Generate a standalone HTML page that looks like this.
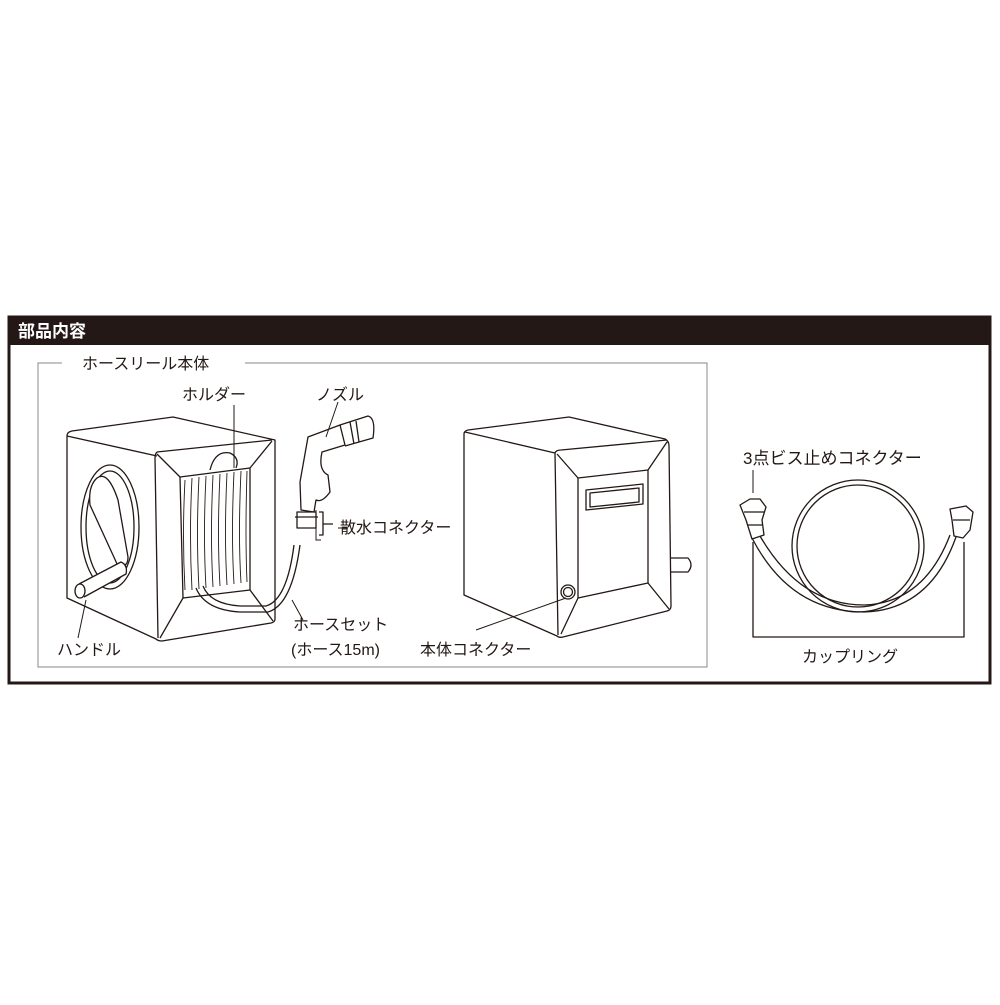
<!DOCTYPE html>
<html><head><meta charset="utf-8"><style>
body{margin:0;background:#fff;width:1000px;height:1000px;overflow:hidden}
svg text{font-family:"Liberation Sans","Noto Sans CJK JP",sans-serif;fill:#231815}
</style></head><body>
<svg width="1000" height="1000" viewBox="0 0 1000 1000" xmlns="http://www.w3.org/2000/svg">
<rect x="9" y="317" width="981" height="366" fill="none" stroke="#231815" stroke-width="3"/>
<rect x="8" y="316" width="983" height="29" fill="#231815"/>
<text x="18" y="337" font-size="17" font-weight="bold" style="fill:#fff">部品内容</text>
<path d="M62 363 H38 V667 H707 V363 H245" fill="none" stroke="#888" stroke-width="1"/>
<text x="82" y="369" font-size="16">ホースリール本体</text>

<g fill="none" stroke="#231815" stroke-width="1.3" stroke-linejoin="round">
<!-- left reel -->
<path d="M67 436 Q67 432 72 431 L173 417 L275 440 L275 619 Q275 622 271 623 L162 641 Q158 641 156 639 L67 598 Z"/>
<path d="M157 452 L272 440 M157 452 Q155 454 155 458 L158 638 M67 436 L157 456"/>
<path d="M180 477 L250 468 L250 590 L183 598 Z"/>
<path d="M157 454 L180 477 M272 441 L250 468 M273 621 L250 590 M160 638 L183 598"/>
<ellipse cx="110" cy="527" rx="29" ry="62"/>
<ellipse cx="110" cy="527" rx="24" ry="56"/>
<path d="M97 478 Q108 470 118 500 L128 557 Q128 568 118 566 L90 505 Q88 486 97 478 Z" fill="#fff"/>
<path d="M79 584 L121 562 Q128 565 126 574 L84 597" fill="#fff"/>
<ellipse cx="80" cy="591" rx="5" ry="7"/>
<path d="M210 470 Q215 450 230 453 Q240 458 236 468"/>
<g stroke-width="0.9">
<path d="M185 480 Q182 535 185 590 M192 478 Q189 535 192 590 M199 477 Q196 535 199 589 M206 476 Q203 535 206 588 M213 475 Q210 535 213 587 M220 474 Q217 535 220 586 M227 473 Q224 535 227 585 M234 472 Q231 535 234 584 M241 471 Q238 535 241 583 M247 471 Q245 535 247 582"/>
</g>
<path d="M196 588 Q205 610 240 612 L268 612 Q292 605 300 545 M203 586 Q210 604 240 606 L266 606 Q287 600 294 545"/>
<!-- nozzle -->
<path d="M308 437 L340 425 L345 445 L322 452 Q318 470 328 475 L330 492 Q322 503 316 500 L314 512 L301 510 L300 482 Z" fill="#fff"/>
<path d="M340 425 L368 416 Q376 418 373 438 L345 446"/>
<path d="M350 422 L354 444 M356 421 L359 442"/>
<path d="M297 512 L316 512 L316 528 L297 528 Z M295 517 H318"/>
<path d="M319 512 H323 V535 H319 M323 524 H333"/>
<!-- right box -->
<path d="M464 434 Q464 431 468 430 L569 417 L665 439 Q669 441 669 446 L671 606 Q671 610 667 611 L563 637 Q559 638 557 636 L464 595 Z"/>
<path d="M465 432 L555 453 M555 453 Q556 450 561 450 L667 440 M555 453 L558 635"/>
<path d="M578 478 L648 470 L648 583 L578 598 Z"/>
<path d="M557 454 L578 478 M667 442 L648 470 M669 609 L648 583 M561 634 L578 598"/>
<path d="M586 490 L643 484 L643 504 L586 510 Z M590 493 L639 488 L639 502 L590 507 Z"/>
<path d="M671 558 L688 558 Q694 565 688 572 L671 572"/>
<circle cx="568" cy="592" r="7"/><circle cx="568" cy="592" r="4.5"/>
<!-- coupling -->
<ellipse cx="858" cy="546" rx="66" ry="66"/>
<ellipse cx="858" cy="546" rx="61" ry="61"/>
<path d="M752 538 Q790 612 864 612 Q930 610 956 537 M760 536 Q800 605 864 605 Q924 603 950 535"/>
<path d="M740 505 L750 499 L760 499 L766 507 L762 520 L764 535 L752 539 L746 520 Z" fill="#fff"/>
<path d="M744 512 H764 M748 525 H762"/>
<path d="M950 509 L966 506 L973 512 L970 530 L963 538 L954 536 L952 520 Z" fill="#fff"/>
<path d="M953 520 H970"/>
<path d="M753 542 V637 H964 V542"/>
</g>
<g stroke="#231815" stroke-width="1" fill="none">
<path d="M234 405 V468 M338 402 L326 437 M316 510 V540 H321 M338 528 H348 M292 600 L303 620 M566 598 L476 630 M86 600 L78 638 M753 470 V493"/>
</g>
<g font-size="16">
<text x="182" y="400">ホルダー</text>
<text x="316" y="400">ノズル</text>
<text x="340" y="533">散水コネクター</text>
<text x="293" y="630">ホースセット</text>
<text x="291" y="655">(ホース15m)</text>
<text x="420" y="655">本体コネクター</text>
<text x="57" y="655">ハンドル</text>
<text x="743" y="464" font-size="17">3点ビス止めコネクター</text>
<text x="802" y="662">カップリング</text>
</g>
</svg>
</body></html>
